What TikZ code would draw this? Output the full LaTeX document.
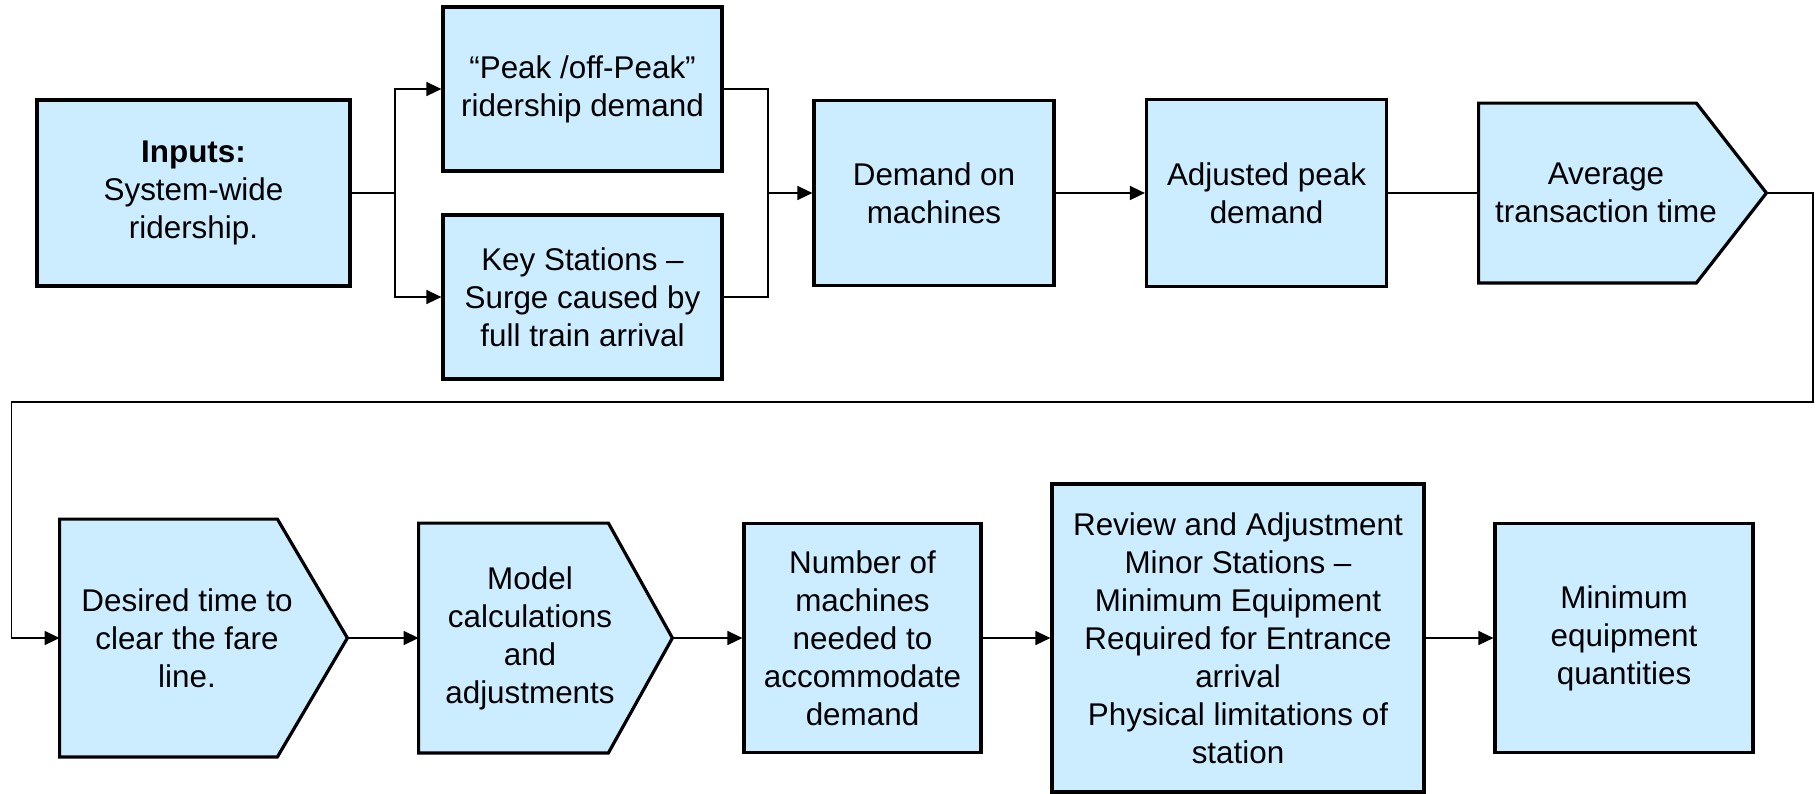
\documentclass[tikz,border=0pt]{standalone}
\usepackage{fontspec}
\setmainfont{Liberation Sans}
\usepackage{tikz}
\usepackage{xcolor}
\usetikzlibrary{positioning}
\usetikzlibrary{calc}
\usetikzlibrary{arrows.meta}
\usetikzlibrary{backgrounds}

\definecolor{boxblue}{RGB}{204,236,255}

\begin{document}
\begin{tikzpicture}[x=0.5pt, y=-0.5pt,
  box/.style={draw=black, line width=1.6pt, fill=boxblue, align=center, inner sep=2pt},
  pent/.style={align=center, inner sep=2pt},
  pentline/.style={draw=black, line width=1.6pt, fill=boxblue, line join=miter},
  link/.style={line width=0.7pt},
  arr/.style={link, -{Triangle[length=7.5pt,width=7pt]}}]
\fontsize{15.7}{19}\selectfont

\useasboundingbox (0,0) rectangle (1818,793);

% top row
\node[box, minimum width=156.5pt, minimum height=93pt] (inputs) at (193.5,193) {\textbf{Inputs:}\\System-wide\\ridership.};
\node[box, minimum width=139.5pt, minimum height=82pt] (peak) at (582.5,89) {“Peak /off-Peak”\\ridership demand};
\node[box, minimum width=139.5pt, minimum height=82pt] (key) at (582.5,297) {Key Stations –\\Surge caused by\\full train arrival};
\node[box, minimum width=120pt, minimum height=92.5pt] (demand) at (934,193) {Demand on\\machines};
\node[box, minimum width=120pt, minimum height=93.5pt] (adjusted) at (1266.5,193) {Adjusted peak\\demand};
\node[pent, minimum width=127pt, minimum height=89.5pt] (average) at (1606,193) {Average\\transaction time};
\coordinate (averagetip) at ([xshift=16.5pt]average.east);

% bottom row
\node[pent, minimum width=127pt, minimum height=118.5pt] (desired) at (187,638) {Desired time to\\clear the fare\\line.};
\coordinate (desiredtip) at ([xshift=16.5pt]desired.east);
\node[pent, minimum width=111pt, minimum height=114.5pt] (model) at (530,638) {Model\\calculations\\and\\adjustments};
\coordinate (modeltip) at ([xshift=15.5pt]model.east);
\node[box, minimum width=118.5pt, minimum height=114.5pt] (number) at (862.5,638) {Number of\\machines\\needed to\\accommodate\\demand};
\node[box, minimum width=186pt, minimum height=154pt] (review) at (1238,638) {Review and Adjustment\\Minor Stations –\\Minimum Equipment\\Required for Entrance\\arrival\\Physical limitations of\\station};
\node[box, minimum width=129pt, minimum height=114.5pt] (minimum) at (1624,638) {Minimum\\equipment\\quantities};

% pentagon outlines
\begin{scope}[on background layer]
\filldraw[pentline] (average.north west) -- ([xshift=-18.5pt]average.north east) -- (averagetip) -- ([xshift=-18.5pt]average.south east) -- (average.south west) -- cycle;
\filldraw[pentline] (desired.north west) -- ([xshift=-18.5pt]desired.north east) -- (desiredtip) -- ([xshift=-18.5pt]desired.south east) -- (desired.south west) -- cycle;
\filldraw[pentline] (model.north west) -- ([xshift=-16.5pt]model.north east) -- (modeltip) -- ([xshift=-16.5pt]model.south east) -- (model.south west) -- cycle;
\end{scope}

% connectors
\coordinate (split) at (395,193);
\coordinate (merge) at (768,193);
\coordinate (turnA) at (1813,402);
\coordinate (turnB) at (11.5,402);

\draw[link] (inputs.east) -- (split);
\draw[arr] (split) |- (peak.west);
\draw[arr] (split) |- (key.west);
\draw[link] (peak.east) -| (merge);
\draw[link] (key.east) -| (merge);
\draw[arr] (merge) -- (demand.west);
\draw[arr] (demand.east) -- (adjusted.west);
\draw[link] (adjusted.east) -- (average.west);
\draw[arr] (averagetip) -| (turnA) -- (turnB) |- (desired.west);
\draw[arr] (desiredtip) -- (model.west);
\draw[arr] (modeltip) -- (number.west);
\draw[arr] (number.east) -- (review.west);
\draw[arr] (review.east) -- (minimum.west);

\end{tikzpicture}
\end{document}
